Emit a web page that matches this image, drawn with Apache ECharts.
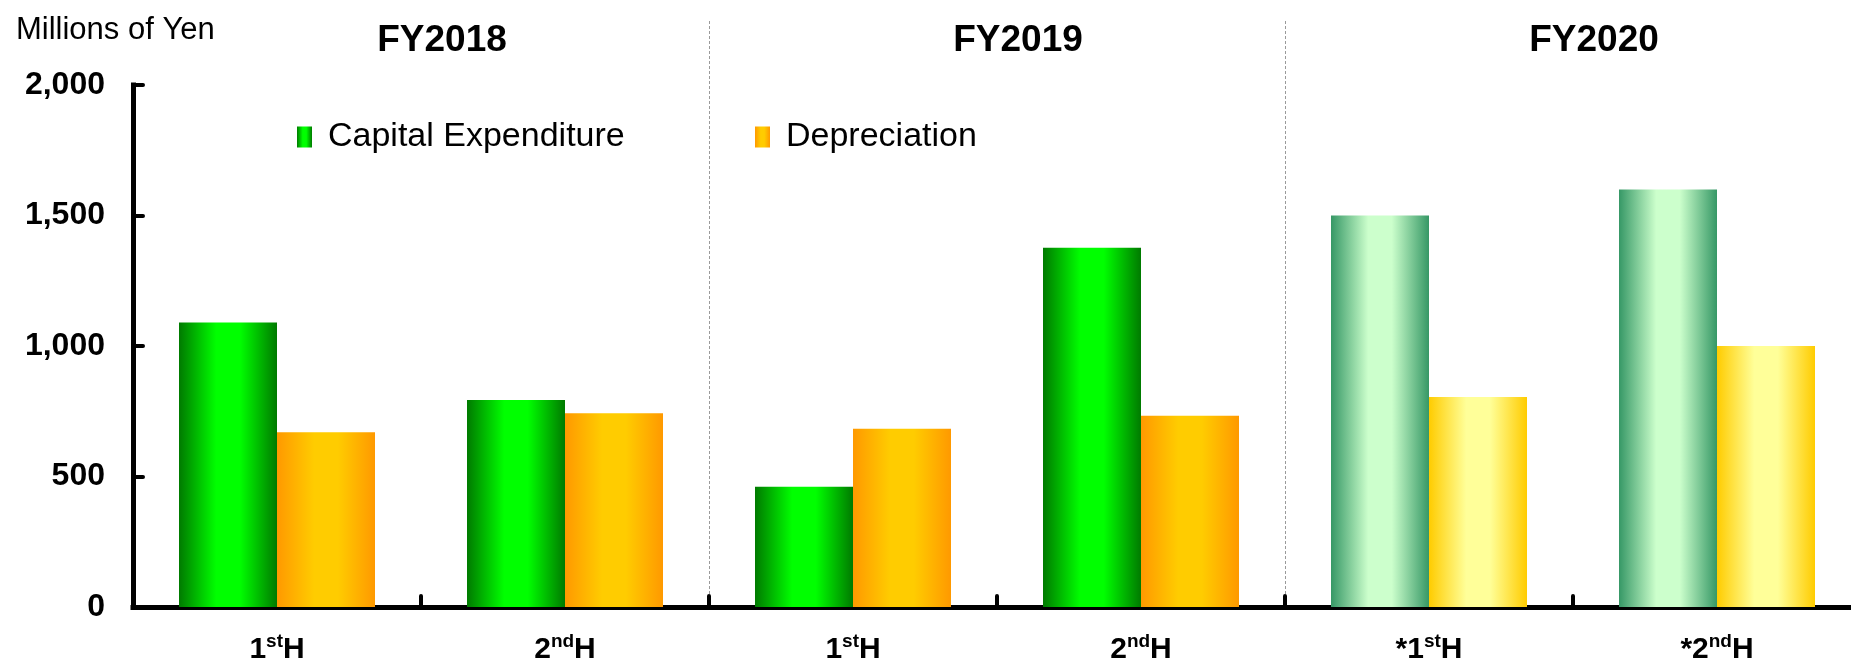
<!DOCTYPE html>
<html>
<head>
<meta charset="utf-8">
<title>Capital Expenditure and Depreciation</title>
<script src="https://cdn.jsdelivr.net/npm/echarts@6/dist/echarts.min.js"></script>
<style>
  html, body { margin: 0; padding: 0; background: #ffffff; }
  #chart { width: 1851px; height: 659px; }
</style>
</head>
<body>
<div id="chart"></div>
<script>
// Half-year periods (x axis) and the fiscal years they belong to
const halves = ['1stH', '2ndH', '1stH', '2ndH', '*1stH', '*2ndH'];
const fiscalYears = ['FY2018', 'FY2019', 'FY2020'];

// Millions of yen per half year
const capitalExpenditure = [1090, 793, 461, 1376, 1500, 1600];
const depreciation = [670, 742, 683, 733, 805, 1000];

// Periods marked with * are plans (drawn in lighter shades)
const isPlan = [false, false, false, false, true, true];

// Value axis range
const yMin = 0;
const yMax = 2000;
const yStep = 500;

const FONT = '"Liberation Sans", Arial, Helvetica, sans-serif';

function barGradient(edge, centre) {
  return {
    type: 'linear', x: 0, y: 0, x2: 1, y2: 0,
    colorStops: [
      { offset: 0, color: edge },
      { offset: 0.38, color: centre },
      { offset: 0.62, color: centre },
      { offset: 1, color: edge }
    ]
  };
}

const capActualFill = barGradient('#007a00', '#00ff00');
const capPlanFill = barGradient('#369866', '#ccffcc');
const depActualFill = barGradient('#ff9900', '#ffcc00');
const depPlanFill = barGradient('#ffcc00', '#ffff99');

function styledData(values, actualFill, planFill) {
  return values.map((v, i) => ({
    value: v,
    itemStyle: { color: isPlan[i] ? planFill : actualFill }
  }));
}

// "1stH" -> 1 + superscript "st" + H
function halfLabel(name) {
  const m = /^(\*?\d)([a-z]+)(H)$/.exec(name);
  if (!m) return name;
  return '{a|' + m[1] + '}{s|' + m[2] + '}{a|' + m[3] + '}';
}

// The plot runs a little past the right edge of the page
const grid = { left: 133, right: -10, top: 85, bottom: 52, outerBoundsMode: 'none', containLabel: false };

const legendText = { fontFamily: FONT, fontSize: 34, color: '#000', padding: [0, 0, 0, 11] };

const chart = echarts.init(document.getElementById('chart'), null, { renderer: 'canvas' });

chart.setOption({
  animation: false,
  backgroundColor: '#ffffff',
  textStyle: { fontFamily: FONT },
  title: {
    text: 'Millions of Yen',
    left: 16,
    top: 15,
    padding: 0,
    textStyle: { fontFamily: FONT, fontSize: 31, fontWeight: 'normal', color: '#000' }
  },
  legend: [
    {
      data: ['Capital Expenditure'],
      left: 297, top: 120, padding: 0,
      icon: 'rect', itemWidth: 15, itemHeight: 21,
      textStyle: legendText,
      selectedMode: false
    },
    {
      data: ['Depreciation'],
      left: 755, top: 120, padding: 0,
      icon: 'rect', itemWidth: 15, itemHeight: 21,
      textStyle: legendText,
      selectedMode: false
    }
  ],
  grid: [
    grid,
    { left: grid.left, right: grid.right, top: 21, bottom: grid.bottom, outerBoundsMode: 'none', containLabel: false }
  ],
  xAxis: [
    {
      gridIndex: 0,
      type: 'category',
      data: halves,
      axisLine: { lineStyle: { color: '#000', width: 5, cap: 'square' } },
      axisTick: { show: true, inside: true, length: 11, lineStyle: { color: '#000', width: 4, cap: 'round' } },
      axisLabel: {
        interval: 0,
        margin: 25,
        formatter: halfLabel,
        rich: {
          a: { fontFamily: FONT, fontSize: 30, fontWeight: 'bold', color: '#000', lineHeight: 36, verticalAlign: 'middle' },
          s: { fontFamily: FONT, fontSize: 19, fontWeight: 'bold', color: '#000', lineHeight: 19, verticalAlign: 'top' }
        }
      },
      splitLine: { show: false }
    },
    {
      gridIndex: 1,
      type: 'category',
      data: fiscalYears,
      position: 'top',
      axisLine: { show: false },
      axisTick: { show: false },
      axisLabel: {
        inside: true,
        margin: 1,
        fontFamily: FONT,
        fontSize: 37,
        fontWeight: 'bold',
        color: '#000',
        padding: [0, 0, 0, 42]
      },
      splitLine: {
        show: true,
        showMinLine: false,
        showMaxLine: false,
        lineStyle: { color: '#9a9a9a', width: 1, type: [3, 2] }
      }
    }
  ],
  yAxis: [
    {
      gridIndex: 0,
      type: 'value',
      min: yMin,
      max: yMax,
      interval: yStep,
      axisLine: { show: true, lineStyle: { color: '#000', width: 5, cap: 'square' } },
      axisTick: { show: true, inside: true, length: 10, lineStyle: { color: '#000', width: 4, cap: 'round' } },
      axisLabel: {
        margin: 28,
        fontFamily: FONT,
        fontSize: 32,
        fontWeight: 'bold',
        color: '#000',
        formatter: v => v.toLocaleString('en-US')
      },
      splitLine: { show: false }
    },
    {
      gridIndex: 1,
      type: 'value',
      show: false
    }
  ],
  series: [
    {
      name: 'Capital Expenditure',
      type: 'bar',
      xAxisIndex: 0,
      yAxisIndex: 0,
      barWidth: 98,
      barGap: '0%',
      itemStyle: { color: capActualFill },
      data: styledData(capitalExpenditure, capActualFill, capPlanFill)
    },
    {
      name: 'Depreciation',
      type: 'bar',
      xAxisIndex: 0,
      yAxisIndex: 0,
      barWidth: 98,
      barGap: '0%',
      itemStyle: { color: depActualFill },
      data: styledData(depreciation, depActualFill, depPlanFill)
    }
  ]
});
</script>
</body>
</html>
